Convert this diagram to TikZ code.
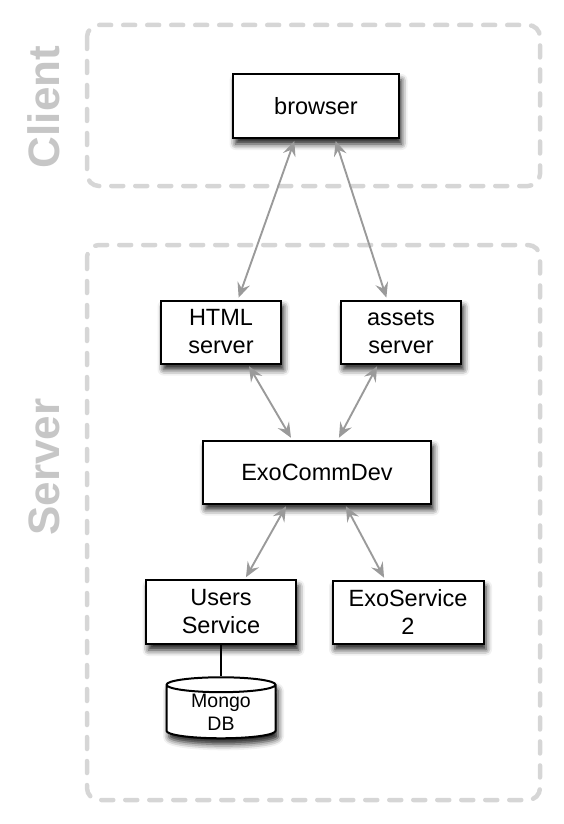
\documentclass[tikz,border=0pt]{standalone}
\usepackage{fontspec}
\setmainfont{Liberation Sans}
\usetikzlibrary{arrows.meta}
\usetikzlibrary{shapes.geometric}
\usetikzlibrary{shadows.blur}

\definecolor{zonegray}{HTML}{D6D6D6}
\definecolor{labelgray}{HTML}{C6C6C6}
\definecolor{linkgray}{HTML}{9A9A9A}

\tikzset{
  zone/.style={zonegray, line width=4.5pt, line cap=round, dash pattern=on 12pt off 12pt, rounded corners=12pt},
  zonelabel/.style={labelgray, rotate=90, font=\fontsize{44}{50}\selectfont\bfseries},
  box/.style={draw, fill=white, line width=2pt, inner sep=0pt, align=center,
    font=\fontsize{23.5}{28}\selectfont,
    blur shadow={shadow xshift=2.5pt, shadow yshift=-6pt, shadow blur radius=6pt, shadow opacity=90}},
  link/.style={linkgray, line width=1.9pt, {Stealth[length=15pt, width=13pt, inset=5.5pt]}-{Stealth[length=15pt, width=13pt, inset=5.5pt]}, shorten <=2pt, shorten >=2pt}
}

\begin{document}
\begin{tikzpicture}[x=1pt, y=-1pt]
\useasboundingbox (0,0) rectangle (564,824);
% zones
\draw[zone] (87,25) rectangle (540,186);
\draw[zone] (87,245) rectangle (540,800);
\node[zonelabel] (client) at (44,107) {Client};
\node[zonelabel] (server) at (44,467) {Server};

% boxes
\node[box, minimum width=166pt, minimum height=64pt] (browser) at (316,106) {browser};
\node[box, minimum width=120pt, minimum height=63pt] (html) at (221,332) {HTML\\server};
\node[box, minimum width=120pt, minimum height=63pt] (assets) at (401,332) {assets\\server};
\node[box, minimum width=228pt, minimum height=63pt] (exocomm) at (317,472) {ExoCommDev};
\node[box, minimum width=150pt, minimum height=64pt] (users) at (221,612) {Users\\Service};
\node[box, minimum width=151pt, minimum height=63pt] (exoservice) at (408,612) {ExoService\\2};
\node[box, cylinder, shape border rotate=90, aspect=0.25, minimum width=109pt, minimum height=61pt,
  font=\fontsize{19.5}{23}\selectfont] (mongo) at (221,712) {Mongo\\DB};

% links
\draw[link] ([xshift=-21pt]browser.south) -- ([xshift=17pt]html.north);
\draw[link] ([xshift=19pt]browser.south) -- ([xshift=-14pt]assets.north);
\draw[link] ([xshift=27pt]html.south) -- ([xshift=-25pt]exocomm.north);
\draw[link] ([xshift=-23pt]assets.south) -- ([xshift=21pt]exocomm.north);
\draw[link] ([xshift=-30pt]exocomm.south) -- ([xshift=24pt]users.north);
\draw[link] ([xshift=28pt]exocomm.south) -- ([xshift=-23pt]exoservice.north);
\draw[line width=1.6pt] (users.south) -- (mongo.top);
\end{tikzpicture}
\end{document}
